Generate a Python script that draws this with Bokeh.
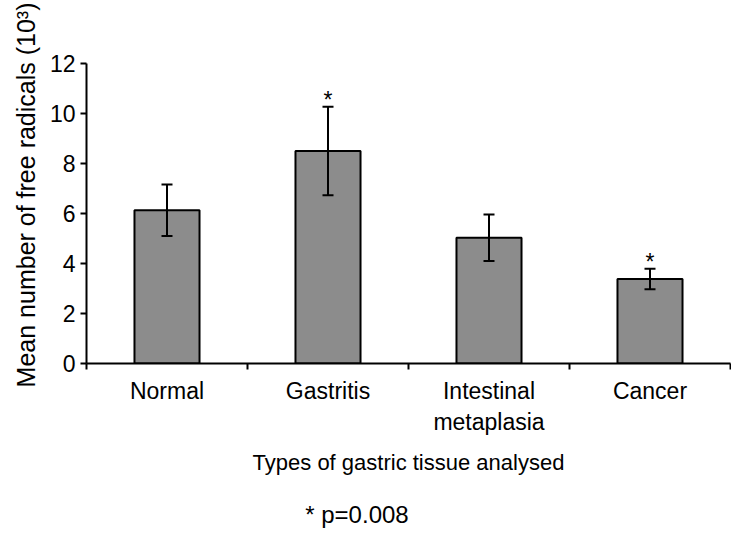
from bokeh.plotting import figure
from bokeh.models import (ColumnDataSource, Range1d, LinearAxis, FixedTicker, Whisker, TeeHead, Title)
from bokeh.core.properties import value
from bokeh.embed import file_html
from bokeh.resources import INLINE

# ---- data ----
categories = ["Normal", "Gastritis", "Intestinal\nmetaplasia", "Cancer"]
means = [6.13, 8.50, 5.03, 3.38]
errors = [1.03, 1.77, 0.93, 0.41]
significant = [False, True, False, True]
y_ticks = [0, 2, 4, 6, 8, 10, 12]
y_title = "Mean number of free radicals (10³)"
x_title = "Types of gastric tissue analysed"
note = "* p=0.008"
note_x = 1.68          # horizontal anchor of the footnote, in category units

FONT = "Liberation Sans"
FS = "23px"

n = len(categories)
centers = [i + 0.5 for i in range(n)]
upper = [m + e for m, e in zip(means, errors)]
lower = [m - e for m, e in zip(means, errors)]
src = ColumnDataSource(dict(x=centers, mean=means, upper=upper, lower=lower))
star_src = ColumnDataSource(dict(
    x=[c for c, s in zip(centers, significant) if s],
    y=[u for u, s in zip(upper, significant) if s],
    t=["*" for s in significant if s],
))

p = figure(width=731, height=530, x_range=Range1d(0, n),
           y_range=Range1d(y_ticks[0], y_ticks[-1]),
           output_backend="svg", toolbar_location=None,
           x_axis_location=None, y_axis_location=None,
           min_border_left=86, min_border_right=1, min_border_top=63, min_border_bottom=162)
p.outline_line_color = None
p.xgrid.visible = False
p.ygrid.visible = False
p.background_fill_color = "white"
p.border_fill_color = "white"

p.vbar(x="x", top="mean", width=0.404, source=src,
       fill_color="#8c8c8c", line_color="black", line_width=2)

wh = Whisker(base="x", upper="upper", lower="lower", source=src, dimension="height",
             line_color="black", line_width=2, level="overlay",
             upper_head=TeeHead(size=11, line_width=2, line_color="black"),
             lower_head=TeeHead(size=11, line_width=2, line_color="black"))
p.add_layout(wh)

p.text(x="x", y="y", text="t", source=star_src, text_align="center",
       text_baseline="alphabetic", y_offset=-7, text_font=value(FONT),
       text_font_size=FS, text_color="black")

# y axis
yaxis = LinearAxis(ticker=FixedTicker(ticks=y_ticks), major_tick_in=0, major_tick_out=6,
                   minor_tick_line_color=None, axis_line_width=2, major_tick_line_width=2,
                   axis_line_color="black", major_tick_line_color="black",
                   major_label_text_font=FONT, major_label_text_font_size=FS,
                   major_label_text_color="black", major_label_standoff=5)
p.add_layout(yaxis, "left")
p.add_layout(Title(text=y_title, align="right", offset=-61, text_font=FONT,
                   text_font_size="25px", text_font_style="normal", text_color="black",
                   standoff=14), "left")

# x axis: ticks at category boundaries
edge_axis = LinearAxis(ticker=FixedTicker(ticks=list(range(n + 1))),
                       major_tick_in=0, major_tick_out=6, minor_tick_line_color=None,
                       axis_line_width=2, major_tick_line_width=2,
                       axis_line_color="black", major_tick_line_color="black",
                       major_label_text_font_size="1px", major_label_text_color=None,
                       major_label_standoff=0)
p.add_layout(edge_axis, "below")

label_axis = LinearAxis(ticker=FixedTicker(ticks=centers),
                        major_label_overrides={c: lab for c, lab in zip(centers, categories)},
                        axis_line_color=None, major_tick_line_color=None, minor_tick_line_color=None,
                        major_tick_out=0, major_tick_in=0, major_label_standoff=8,
                        major_label_text_font=FONT, major_label_text_font_size=FS,
                        major_label_text_color="black",
                        axis_label=x_title, axis_label_standoff=12,
                        axis_label_text_font=FONT, axis_label_text_font_size="22px",
                        axis_label_text_font_style="normal", axis_label_text_color="black")
p.add_layout(label_axis, "below")

# footnote as a single tick label on a bare axis (keeps it inside the canvas)
note_axis = LinearAxis(ticker=FixedTicker(ticks=[note_x]),
                       major_label_overrides={note_x: note},
                       axis_line_color=None, major_tick_line_color=None, minor_tick_line_color=None,
                       major_tick_out=0, major_tick_in=0, major_label_standoff=23,
                       major_label_text_font=FONT, major_label_text_font_size="24px",
                       major_label_text_color="black")
p.add_layout(note_axis, "below")

open("out.html", "w").write(file_html(p, INLINE))
